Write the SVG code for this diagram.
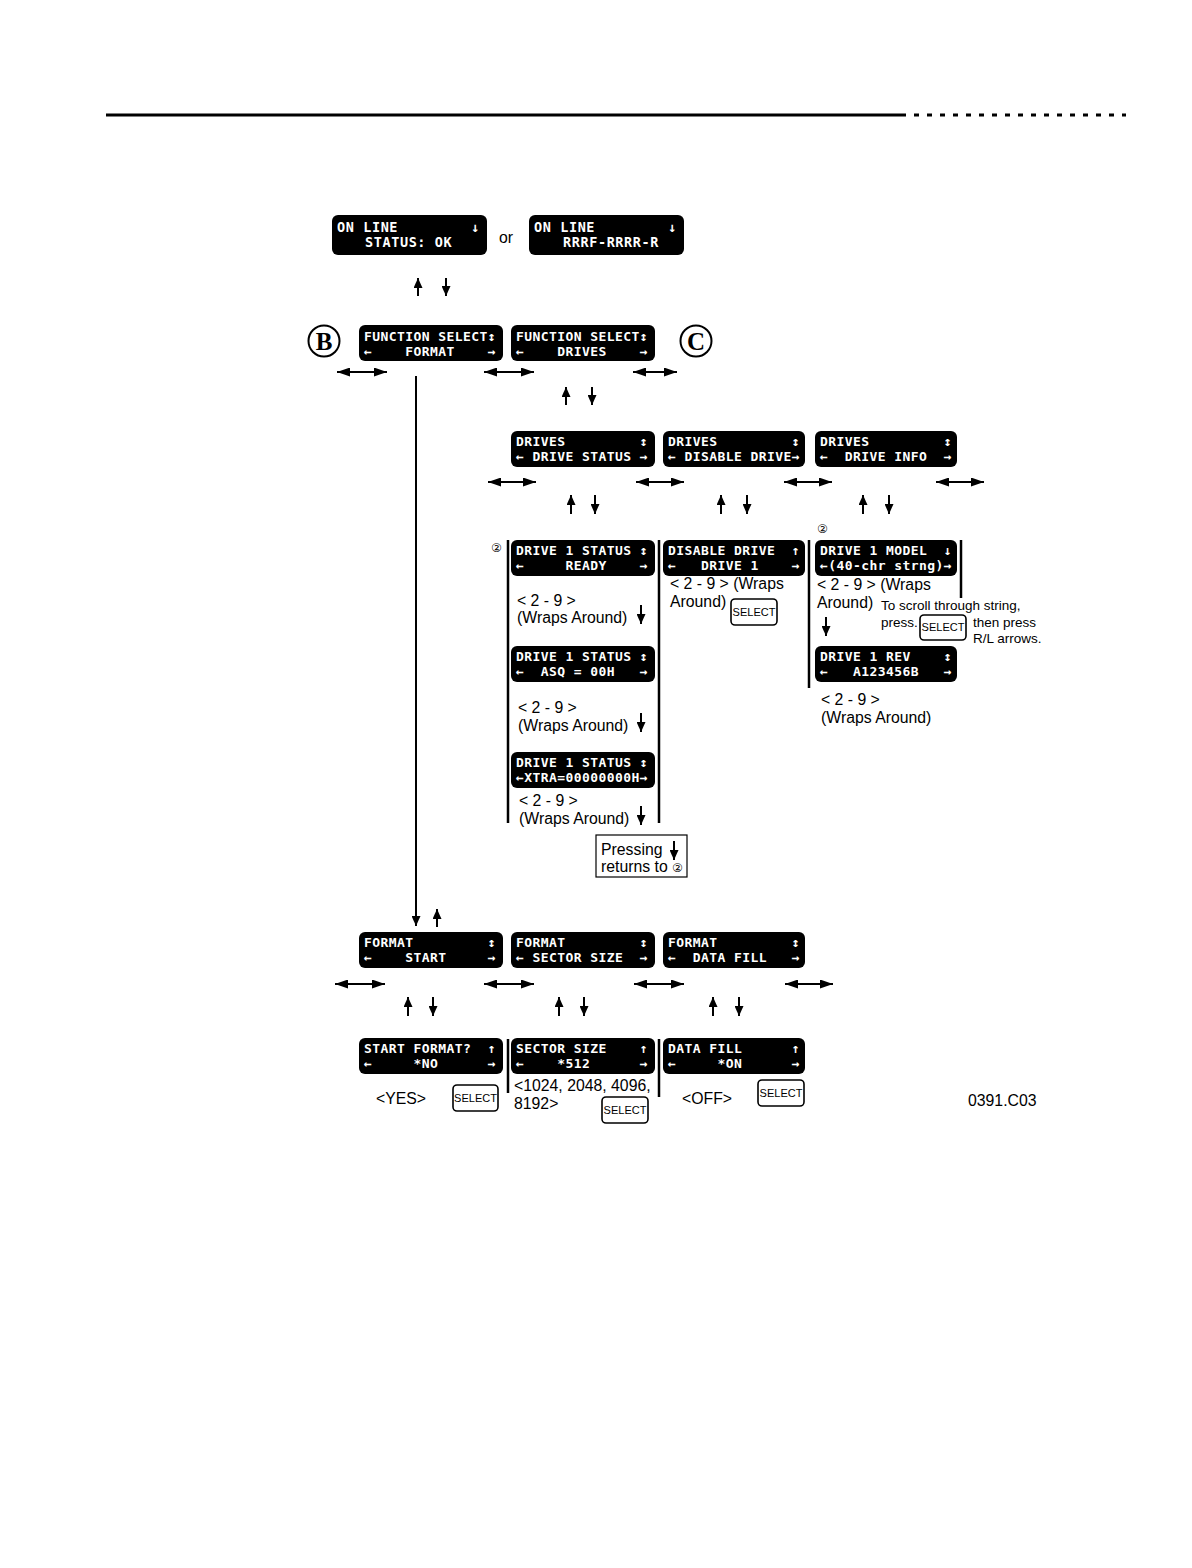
<svg xmlns="http://www.w3.org/2000/svg" width="1192" height="1568" viewBox="0 0 1192 1568">
<style>
.lcd{fill:#000}
.t{font-family:"DejaVu Sans Mono","Liberation Mono",monospace;font-weight:bold;font-size:13px;letter-spacing:0.42px;fill:#fff}
.t2{font-family:"DejaVu Sans Mono","Liberation Mono",monospace;font-weight:bold;font-size:13.5px;letter-spacing:0.6px;fill:#fff}
.l{font-family:"Liberation Sans",Arial,sans-serif;font-size:15.8px;fill:#000}
.s{font-family:"Liberation Sans",Arial,sans-serif;font-size:13.5px;fill:#000}
.c2{font-family:"DejaVu Sans","Noto Sans CJK JP",sans-serif;font-size:12px;fill:#000}
.btn{fill:#fff;stroke:#000;stroke-width:1.6}
.bt{font-family:"Liberation Sans",Arial,sans-serif;font-size:11px;fill:#000;text-anchor:middle}
.ln{stroke:#000;stroke-width:2.5;fill:none}
.ar{stroke:#000;stroke-width:2;fill:none}
.circ{fill:#fff;stroke:#000;stroke-width:2}
.ct{font-family:"Liberation Serif","Times New Roman",serif;font-weight:bold;font-size:25px;text-anchor:middle;fill:#000}
</style>
<defs>
<marker id="ah" viewBox="0 0 10 9" refX="10" refY="4.5" markerWidth="10" markerHeight="9" markerUnits="userSpaceOnUse" orient="auto-start-reverse"><path d="M0,0 L10,4.5 L0,9 z" fill="#000"/></marker>
<marker id="dh" viewBox="0 0 13 9" refX="13" refY="4.5" markerWidth="13" markerHeight="9" markerUnits="userSpaceOnUse" orient="auto-start-reverse"><path d="M0,0 L13,4.5 L0,9 z" fill="#000"/></marker>
</defs>

<g id="header">
<line x1="106" y1="115" x2="906" y2="115" stroke="#000" stroke-width="3"/>
<line x1="914" y1="115" x2="1126" y2="115" stroke="#000" stroke-width="3" stroke-dasharray="5 8"/>
</g>

<g id="n-online-ok">
<rect class="lcd" x="332" y="215" width="155" height="40" rx="6"/>
<text class="t2" x="337" y="232">ON LINE</text>
<text class="t2" x="471" y="232">↓</text>
<text class="t2" x="365" y="247">STATUS: OK</text>
</g>
<text class="l" x="499" y="243" font-size="16">or</text>
<g id="n-online-r">
<rect class="lcd" x="529" y="215" width="155" height="40" rx="6"/>
<text class="t2" x="534" y="232">ON LINE</text>
<text class="t2" x="668" y="232">↓</text>
<text class="t2" x="563" y="247">RRRF-RRRR-R</text>
</g>

<g id="n-circle-b">
<circle class="circ" cx="324" cy="341" r="15.5"/>
<text class="ct" x="324" y="350">B</text>
</g>
<g id="n-fs-format">
<rect class="lcd" x="359" y="325" width="144" height="36" rx="6"/>
<text class="t" x="364" y="341" xml:space="preserve">FUNCTION SELECT↕</text>
<text class="t" x="364" y="356" xml:space="preserve">←    FORMAT    →</text>
</g>
<g id="n-fs-drives">
<rect class="lcd" x="511" y="325" width="144" height="36" rx="6"/>
<text class="t" x="516" y="341" xml:space="preserve">FUNCTION SELECT↕</text>
<text class="t" x="516" y="356" xml:space="preserve">←    DRIVES    →</text>
</g>
<g id="n-circle-c">
<circle class="circ" cx="696" cy="341" r="15.5"/>
<text class="ct" x="696" y="350">C</text>
</g>

<g id="n-drives-status">
<rect class="lcd" x="511" y="431" width="144" height="36" rx="6"/>
<text class="t" x="516" y="446" xml:space="preserve">DRIVES         ↕</text>
<text class="t" x="516" y="461" xml:space="preserve">← DRIVE STATUS →</text>
</g>
<g id="n-drives-disable">
<rect class="lcd" x="663" y="431" width="142" height="36" rx="6"/>
<text class="t" x="668" y="446" xml:space="preserve">DRIVES         ↕</text>
<text class="t" x="668" y="461" xml:space="preserve">← DISABLE DRIVE→</text>
</g>
<g id="n-drives-info">
<rect class="lcd" x="815" y="431" width="142" height="36" rx="6"/>
<text class="t" x="820" y="446" xml:space="preserve">DRIVES         ↕</text>
<text class="t" x="820" y="461" xml:space="preserve">←  DRIVE INFO  →</text>
</g>

<g id="n-status-ready">
<text class="c2" x="491" y="552">②</text>
<rect class="lcd" x="511" y="540" width="144" height="36" rx="6"/>
<text class="t" x="516" y="555" xml:space="preserve">DRIVE 1 STATUS ↕</text>
<text class="t" x="516" y="570" xml:space="preserve">←     READY    →</text>
</g>
<g id="n-disable-drive1">
<rect class="lcd" x="663" y="540" width="142" height="36" rx="6"/>
<text class="t" x="668" y="555" xml:space="preserve">DISABLE DRIVE  ↑</text>
<text class="t" x="668" y="570" xml:space="preserve">←   DRIVE 1    →</text>
</g>
<g id="n-model">
<text class="c2" x="817" y="533">②</text>
<rect class="lcd" x="815" y="540" width="142" height="36" rx="6"/>
<text class="t" x="820" y="555" xml:space="preserve">DRIVE 1 MODEL  ↓</text>
<text class="t" x="820" y="570" xml:space="preserve">←(40-chr strng)→</text>
</g>
<g id="n-status-asq">
<rect class="lcd" x="511" y="646" width="144" height="36" rx="6"/>
<text class="t" x="516" y="661" xml:space="preserve">DRIVE 1 STATUS ↕</text>
<text class="t" x="516" y="676" xml:space="preserve">←  ASQ = 00H   →</text>
</g>
<g id="n-rev">
<rect class="lcd" x="815" y="646" width="142" height="36" rx="6"/>
<text class="t" x="820" y="661" xml:space="preserve">DRIVE 1 REV    ↕</text>
<text class="t" x="820" y="676" xml:space="preserve">←   A123456B   →</text>
</g>
<g id="n-status-xtra">
<rect class="lcd" x="511" y="752" width="144" height="36" rx="6"/>
<text class="t" x="516" y="767" xml:space="preserve">DRIVE 1 STATUS ↕</text>
<text class="t" x="516" y="782" xml:space="preserve">←XTRA=00000000H→</text>
</g>

<g id="n-pressing">
<rect x="596" y="835" width="91" height="42" fill="#fff" stroke="#000" stroke-width="1.2"/>
<text class="l" x="601" y="855">Pressing</text>
<text class="l" x="601" y="872">returns to</text>
<text class="c2" x="672" y="872">②</text>
</g>

<g id="n-fmt-start">
<rect class="lcd" x="359" y="932" width="144" height="36" rx="6"/>
<text class="t" x="364" y="947" xml:space="preserve">FORMAT         ↕</text>
<text class="t" x="364" y="962" xml:space="preserve">←    START     →</text>
</g>
<g id="n-fmt-sector">
<rect class="lcd" x="511" y="932" width="144" height="36" rx="6"/>
<text class="t" x="516" y="947" xml:space="preserve">FORMAT         ↕</text>
<text class="t" x="516" y="962" xml:space="preserve">← SECTOR SIZE  →</text>
</g>
<g id="n-fmt-fill">
<rect class="lcd" x="663" y="932" width="142" height="36" rx="6"/>
<text class="t" x="668" y="947" xml:space="preserve">FORMAT         ↕</text>
<text class="t" x="668" y="962" xml:space="preserve">←  DATA FILL   →</text>
</g>

<g id="n-start-format">
<rect class="lcd" x="359" y="1038" width="144" height="36" rx="6"/>
<text class="t" x="364" y="1053" xml:space="preserve">START FORMAT?  ↑</text>
<text class="t" x="364" y="1068" xml:space="preserve">←     *NO      →</text>
</g>
<g id="n-sector-size">
<rect class="lcd" x="511" y="1038" width="144" height="36" rx="6"/>
<text class="t" x="516" y="1053" xml:space="preserve">SECTOR SIZE    ↑</text>
<text class="t" x="516" y="1068" xml:space="preserve">←    *512      →</text>
</g>
<g id="n-data-fill">
<rect class="lcd" x="663" y="1038" width="142" height="36" rx="6"/>
<text class="t" x="668" y="1053" xml:space="preserve">DATA FILL      ↑</text>
<text class="t" x="668" y="1068" xml:space="preserve">←     *ON      →</text>
</g>

<g id="labels">
<text class="l" x="670" y="589">&lt; 2 - 9 &gt; (Wraps</text>
<text class="l" x="670" y="607">Around)</text>
<text class="l" x="817" y="590">&lt; 2 - 9 &gt; (Wraps</text>
<text class="l" x="817" y="608">Around)</text>
<text class="s" x="881" y="610">To scroll through string,</text>
<text class="s" x="881" y="627">press.</text>
<text class="s" x="973" y="627">then press</text>
<text class="s" x="973" y="643">R/L arrows.</text>
<text class="l" x="821" y="705">&lt; 2 - 9 &gt;</text>
<text class="l" x="821" y="723">(Wraps Around)</text>
<text class="l" x="517" y="606">&lt; 2 - 9 &gt;</text>
<text class="l" x="517" y="623">(Wraps Around)</text>
<text class="l" x="518" y="713">&lt; 2 - 9 &gt;</text>
<text class="l" x="518" y="731">(Wraps Around)</text>
<text class="l" x="519" y="806">&lt; 2 - 9 &gt;</text>
<text class="l" x="519" y="824">(Wraps Around)</text>
<text class="l" x="376" y="1104">&lt;YES&gt;</text>
<text class="l" x="514" y="1091">&lt;1024, 2048, 4096,</text>
<text class="l" x="514" y="1109">8192&gt;</text>
<text class="l" x="682" y="1104">&lt;OFF&gt;</text>
<text class="l" x="968" y="1106" font-size="13">0391.C03</text>
</g>

<g id="buttons">
<rect class="btn" x="731" y="599" width="46" height="26" rx="4"/><text class="bt" x="754" y="616">SELECT</text>
<rect class="btn" x="920" y="615" width="46" height="25" rx="4"/><text class="bt" x="943" y="631">SELECT</text>
<rect class="btn" x="453" y="1085" width="45" height="26" rx="4"/><text class="bt" x="475.5" y="1102">SELECT</text>
<rect class="btn" x="602" y="1097" width="46" height="26" rx="4"/><text class="bt" x="625" y="1114">SELECT</text>
<rect class="btn" x="758" y="1080" width="46" height="26" rx="4"/><text class="bt" x="781" y="1097">SELECT</text>
</g>

<g id="connectors">
<line class="ar" x1="418" y1="296" x2="418" y2="278" marker-end="url(#ah)"/>
<line class="ar" x1="446" y1="278" x2="446" y2="296" marker-end="url(#ah)"/>
<line class="ar" x1="337" y1="372" x2="387" y2="372" marker-start="url(#dh)" marker-end="url(#dh)"/>
<line class="ar" x1="484" y1="372" x2="534" y2="372" marker-start="url(#dh)" marker-end="url(#dh)"/>
<line class="ar" x1="633" y1="372" x2="677" y2="372" marker-start="url(#dh)" marker-end="url(#dh)"/>
<line class="ar" x1="566" y1="405" x2="566" y2="387" marker-end="url(#ah)"/>
<line class="ar" x1="592" y1="387" x2="592" y2="405" marker-end="url(#ah)"/>
<line class="ar" x1="416" y1="376" x2="416" y2="926" marker-end="url(#ah)"/>
<line class="ar" x1="437" y1="927" x2="437" y2="909" marker-end="url(#ah)"/>
<line class="ar" x1="488" y1="482" x2="536" y2="482" marker-start="url(#dh)" marker-end="url(#dh)"/>
<line class="ar" x1="636" y1="482" x2="684" y2="482" marker-start="url(#dh)" marker-end="url(#dh)"/>
<line class="ar" x1="784" y1="482" x2="832" y2="482" marker-start="url(#dh)" marker-end="url(#dh)"/>
<line class="ar" x1="936" y1="482" x2="984" y2="482" marker-start="url(#dh)" marker-end="url(#dh)"/>
<line class="ar" x1="571" y1="514" x2="571" y2="495" marker-end="url(#ah)"/>
<line class="ar" x1="595" y1="495" x2="595" y2="514" marker-end="url(#ah)"/>
<line class="ar" x1="721" y1="514" x2="721" y2="495" marker-end="url(#ah)"/>
<line class="ar" x1="747" y1="495" x2="747" y2="514" marker-end="url(#ah)"/>
<line class="ar" x1="863" y1="514" x2="863" y2="495" marker-end="url(#ah)"/>
<line class="ar" x1="889" y1="495" x2="889" y2="514" marker-end="url(#ah)"/>
<line class="ln" x1="508" y1="540" x2="508" y2="823"/>
<line class="ln" x1="659" y1="540" x2="659" y2="823"/>
<line class="ln" x1="809" y1="540" x2="809" y2="688"/>
<line class="ln" x1="961" y1="540" x2="961" y2="598"/>
<line class="ar" x1="641" y1="605" x2="641" y2="624" marker-end="url(#ah)"/>
<line class="ar" x1="641" y1="713" x2="641" y2="732" marker-end="url(#ah)"/>
<line class="ar" x1="641" y1="806" x2="641" y2="825" marker-end="url(#ah)"/>
<line class="ar" x1="674" y1="841" x2="674" y2="860" marker-end="url(#ah)"/>
<line class="ar" x1="826" y1="617" x2="826" y2="636" marker-end="url(#ah)"/>
<line class="ar" x1="335" y1="984" x2="385" y2="984" marker-start="url(#dh)" marker-end="url(#dh)"/>
<line class="ar" x1="484" y1="984" x2="534" y2="984" marker-start="url(#dh)" marker-end="url(#dh)"/>
<line class="ar" x1="634" y1="984" x2="684" y2="984" marker-start="url(#dh)" marker-end="url(#dh)"/>
<line class="ar" x1="785" y1="984" x2="833" y2="984" marker-start="url(#dh)" marker-end="url(#dh)"/>
<line class="ar" x1="408" y1="1016" x2="408" y2="997" marker-end="url(#ah)"/>
<line class="ar" x1="433" y1="997" x2="433" y2="1016" marker-end="url(#ah)"/>
<line class="ar" x1="559" y1="1016" x2="559" y2="997" marker-end="url(#ah)"/>
<line class="ar" x1="584" y1="997" x2="584" y2="1016" marker-end="url(#ah)"/>
<line class="ar" x1="713" y1="1016" x2="713" y2="997" marker-end="url(#ah)"/>
<line class="ar" x1="739" y1="997" x2="739" y2="1016" marker-end="url(#ah)"/>
<line class="ln" x1="508" y1="1039" x2="508" y2="1093"/>
<line class="ln" x1="659" y1="1039" x2="659" y2="1097"/>
</g>
</svg>
